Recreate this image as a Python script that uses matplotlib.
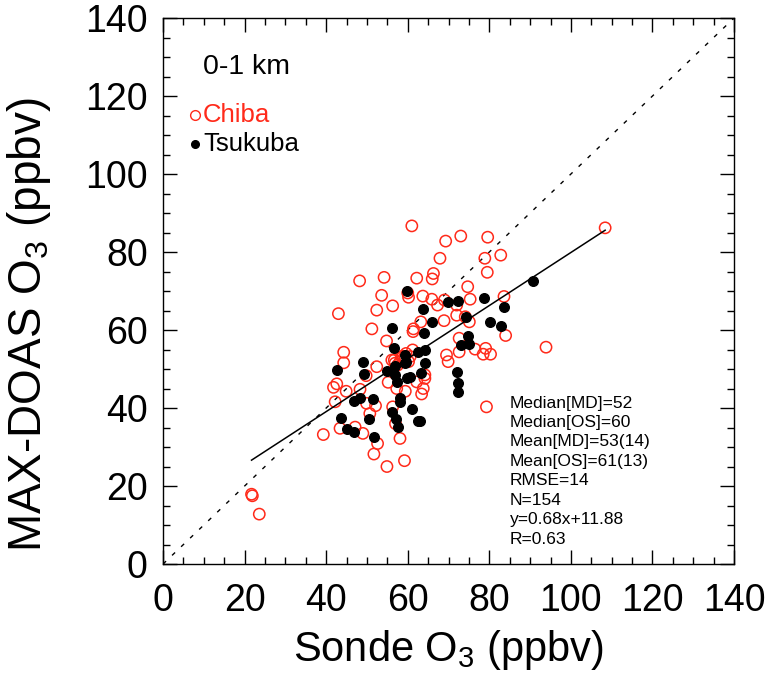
import numpy as np
import matplotlib
matplotlib.use("Agg")
import matplotlib.pyplot as plt
from matplotlib.ticker import MultipleLocator

plt.rcParams['font.family'] = ['Liberation Sans', 'DejaVu Sans']
plt.rcParams['mathtext.fontset'] = 'custom'
plt.rcParams['mathtext.rm'] = 'Liberation Sans'
plt.rcParams['mathtext.it'] = 'Liberation Sans'

chiba_x = [61.0, 108.4, 69.3, 73.0, 79.6, 67.9, 78.9, 82.8, 79.5, 48.2, 54.2, 62.2, 66.3, 66.0,
           74.7, 60.0, 60.2, 53.6, 63.7, 65.9, 56.3, 52.4, 43.0, 67.3, 69.0, 72.0, 75.3, 83.6,
           63.2, 61.4, 51.2, 68.9, 72.0, 74.1, 75.1, 84.0, 93.9, 72.6, 76.5, 79.1, 78.5, 80.3,
           69.5, 69.9, 72.6, 79.3, 54.8, 44.3, 44.3, 52.4, 49.8, 56.7, 57.5, 58.8, 60.6, 61.2,
           55.2, 41.8, 42.6, 62.2, 63.8, 64.2, 63.4, 64.2, 57.3, 59.4, 42.2, 44.9, 48.3, 49.9,
           52.1, 50.7, 56.3, 57.0, 43.4, 47.1, 49.0, 39.3, 52.6, 51.7, 54.9, 59.2, 58.1, 21.7,
           21.9, 23.6, 61.3, 56.1, 56.9, 58.1, 58.5, 59.6, 60.2, 59.3]
chiba_y = [86.7, 86.2, 82.8, 84.1, 83.8, 78.4, 78.4, 79.2, 74.8, 72.6, 73.5, 73.3, 74.5, 73.1,
           71.1, 69.5, 68.4, 68.9, 68.7, 67.9, 66.2, 65.1, 64.2, 66.4, 67.7, 66.4, 67.9, 68.6,
           62.1, 60.3, 60.3, 62.4, 63.8, 63.4, 62.1, 58.6, 55.6, 57.9, 55.1, 55.3, 53.8, 53.8,
           53.6, 51.9, 54.4, 40.3, 57.2, 54.3, 51.6, 50.6, 48.3, 52.3, 51.0, 53.2, 53.2, 54.9,
           46.6, 45.3, 46.2, 46.7, 45.0, 47.6, 43.6, 48.5, 45.0, 44.3, 41.6, 44.3, 44.8, 41.2,
           40.6, 38.6, 40.3, 36.0, 34.8, 35.1, 33.5, 33.2, 30.9, 28.2, 25.0, 26.5, 32.2, 17.9,
           17.5, 12.8, 59.6, 52.3, 51.5, 51.9, 53.2, 54.0, 51.9, 53.2]

tsukuba_x = [90.8, 59.7, 63.8, 69.8, 72.2, 78.7, 83.6, 74.4, 66.0, 80.2, 82.8, 64.0, 74.7, 73.0,
             75.0, 62.4, 64.2, 59.3, 64.2, 63.2, 59.7, 60.6, 72.0, 72.4, 72.4, 63.0, 56.2, 56.7,
             49.0, 49.3, 42.6, 54.8, 56.9, 56.9, 57.3, 59.6, 59.3, 46.8, 48.4, 51.4, 58.1, 58.1,
             61.0, 56.2, 57.0, 57.5, 50.5, 43.6, 62.4, 45.0, 46.7, 51.8]
tsukuba_y = [72.6, 70.1, 65.5, 67.1, 67.5, 68.1, 66.0, 63.3, 62.0, 62.0, 61.1, 59.3, 58.5, 56.2,
             56.4, 54.4, 55.0, 51.6, 51.5, 48.9, 47.6, 48.0, 49.2, 46.5, 44.2, 36.7, 60.6, 55.4,
             51.9, 48.8, 49.7, 49.5, 50.8, 48.5, 46.7, 51.9, 53.6, 41.8, 42.5, 42.2, 42.5, 41.6,
             39.8, 38.9, 37.1, 35.1, 37.1, 37.5, 36.8, 34.5, 33.9, 32.6]

fit_slope = 0.68
fit_intercept = 11.88
stats_lines = ["Median[MD]=52", "Median[OS]=60", "Mean[MD]=53(14)", "Mean[OS]=61(13)",
               "RMSE=14", "N=154", "y=0.68x+11.88", "R=0.63"]

fig = plt.figure(figsize=(7.73, 6.75), dpi=100)
ax = fig.add_axes([0.2109, 0.1644, 0.7387, 0.8089])
ax.set_xlim(0, 140)
ax.set_ylim(0, 140)

ax.plot([0, 140], [0, 140], color='black', linestyle=(0, (3, 6)), linewidth=1.0)

ax.scatter(chiba_x, chiba_y, s=66, facecolors='none', edgecolors='#ff2a1a', linewidths=1.1, zorder=3)
ax.scatter(tsukuba_x, tsukuba_y, s=48, color='black', zorder=4)

allx = np.array(chiba_x + tsukuba_x)
xl = np.array([allx.min(), allx.max()])
ax.plot(xl, fit_slope * xl + fit_intercept, color='black', linewidth=1.1, zorder=5)

for sp in ax.spines.values():
    sp.set_linewidth(1.0)
ax.xaxis.set_major_locator(MultipleLocator(20))
ax.yaxis.set_major_locator(MultipleLocator(20))
ax.xaxis.set_minor_locator(MultipleLocator(5))
ax.yaxis.set_minor_locator(MultipleLocator(5))
ax.tick_params(which='both', direction='in', top=True, right=True, width=1.0)
ax.tick_params(which='major', length=10, labelsize=27)
ax.tick_params(axis='x', which='major', pad=14)
ax.tick_params(axis='y', which='major', pad=11)
ax.tick_params(which='minor', length=5)

ax.set_xlabel('Sonde O$_3$ (ppbv)', fontsize=30, labelpad=6)
ax.set_ylabel('MAX-DOAS O$_3$ (ppbv)', fontsize=33)
ax.yaxis.set_label_coords(-0.193, 0.438)

ax.text(0.070, 0.910, '0-1 km', transform=ax.transAxes, fontsize=20.5, va='center', ha='left')
ax.plot([0.056], [0.822], marker='o', markersize=7, markerfacecolor='none',
        markeredgecolor='#ff2a1a', markeredgewidth=1.0, transform=ax.transAxes)
ax.text(0.070, 0.822, 'Chiba', transform=ax.transAxes, fontsize=18.5, color='#ff2a1a', va='center', ha='left')
ax.plot([0.056], [0.769], marker='o', markersize=5.5, color='black', transform=ax.transAxes)
ax.text(0.070, 0.769, 'Tsukuba', transform=ax.transAxes, fontsize=18.5, color='black', va='center', ha='left')

for i, line in enumerate(stats_lines):
    ax.text(0.6077, 0.2949 - i * 0.0357, line, transform=ax.transAxes, fontsize=12.5,
            va='center', ha='left')

fig.savefig('out.png', dpi=100)
